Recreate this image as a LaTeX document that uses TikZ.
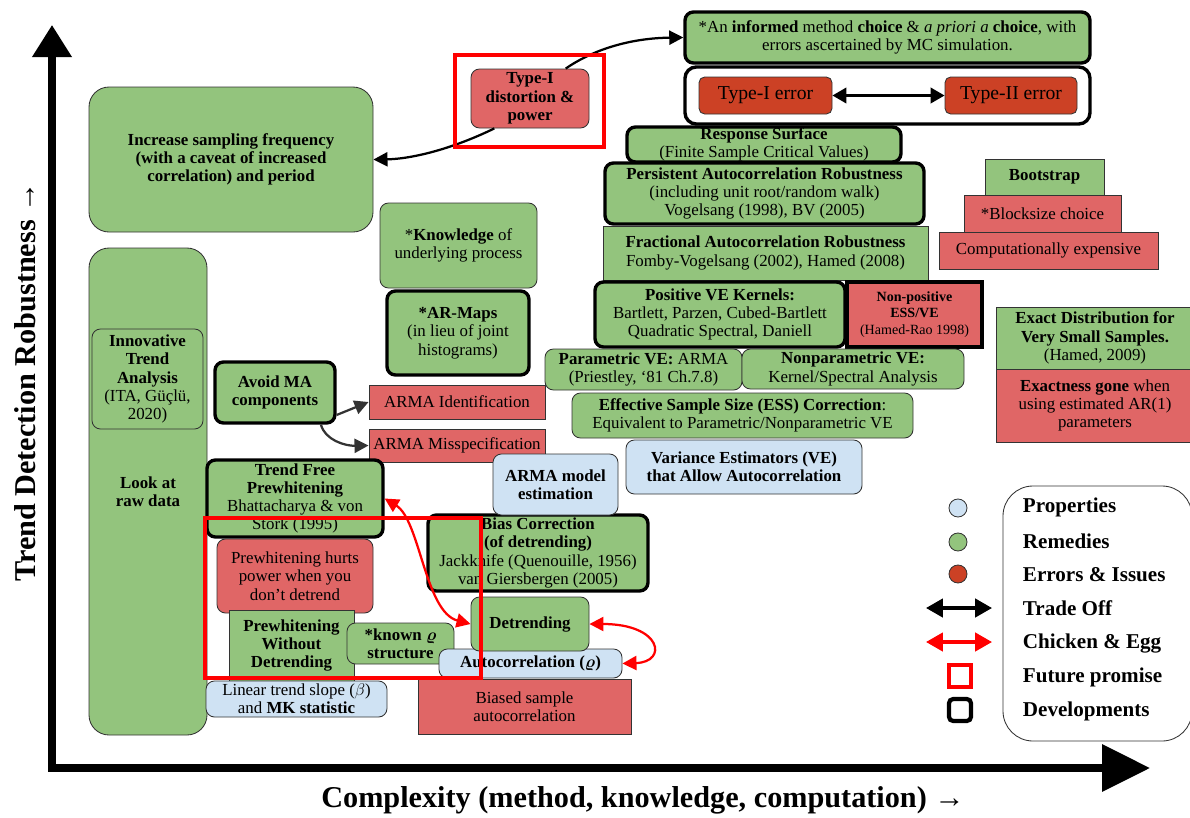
\documentclass[tikz,border=0pt]{standalone}
\usepackage{amsmath}
\usepackage{fontspec}
\setmainfont{Liberation Serif}
\usetikzlibrary{arrows.meta}

\definecolor{remedyc}{HTML}{93C47D}
\definecolor{issuec}{HTML}{E06666}
\definecolor{errorc}{HTML}{CC4125}
\definecolor{propc}{HTML}{CFE2F3}
\definecolor{lined}{HTML}{333333}

\newcommand{\fs}{\fontsize{12}{13}\selectfont}
\newcommand{\blockat}[7]{\node[#2, minimum width={(#5-#3)*0.025cm}, minimum height={(#6-#4)*0.025cm}] (#1) at ({(#3+#5)/2},{(#4+#6)/2}) {#7};}

\tikzset{
	base/.style={draw=lined, line width=0.6pt, align=center, inner sep=0pt, font=\fs, text=black},
	remedy/.style={base, fill=remedyc, rounded corners=6pt},
	remedysq/.style={base, fill=remedyc},
	issue/.style={base, fill=issuec},
	prop/.style={base, fill=propc, rounded corners=6pt},
	devel/.style={draw=black, line width=2.4pt},
	promise/.style={draw=red, line width=2.2pt},
	bold/.style={font=\fs\bfseries},
	trade/.style={black, line width=2pt, {Triangle[length=10pt,width=11pt]}-{Triangle[length=10pt,width=11pt]}},
	egg/.style={red, line width=1.6pt, {Triangle[length=10pt,width=10pt]}-{Triangle[length=10pt,width=10pt]}},
	lead/.style={black, line width=1.6pt, -{Triangle[length=10pt,width=10pt]}},
	maarrow/.style={lined, line width=1.6pt, -{Triangle[length=10pt,width=10pt]}},
	legtext/.style={anchor=west, font=\fontsize{15}{18}\selectfont\bfseries},
	legdot/.style={circle, draw=lined, line width=0.6pt, minimum size=0.45cm, inner sep=0pt}
}

\begin{document}
\begin{tikzpicture}[x=0.025cm, y=-0.025cm]
	\useasboundingbox (0,0) rectangle (1190,817);
	\draw[line width=5pt, {Triangle[length=0.8cm,width=0.95cm]}-{Triangle[length=1.2cm,width=1.15cm]}] (52,25) -- (52,768) -- (1150,768);
	\node[font=\fontsize{21.5}{25}\selectfont\bfseries, rotate=90] (ylab) at (25,382) {Trend Detection Robustness →};
	\node[font=\fontsize{21.5}{25}\selectfont\bfseries] (xlab) at (643,800) {Complexity (method, knowledge, computation) →};

	\blockat{inc}{remedy, bold, rounded corners=0.5cm}{89}{87}{373}{232}{Increase sampling frequency\\(with a caveat of increased\\correlation) and period}
	\blockat{raw}{remedy, rounded corners=0.5cm}{89}{248}{207}{735}{}
	\node[bold, align=center] (rawtxt) at (148,492) {Look at\\raw data};
	\blockat{ita}{remedy}{92}{329}{203}{429}{\textbf{Innovative}\\\textbf{Trend}\\\textbf{Analysis}\\(ITA, Güçlü,\\2020)}
	\blockat{know}{remedy}{380}{203}{537}{288}{*\textbf{Knowledge} of\\underlying process}
	\blockat{armap}{remedy, devel}{387}{291}{529}{375}{\textbf{*AR-Maps}\\(in lieu of joint\\histograms)}
	\blockat{avoid}{remedy, devel, bold}{215}{362}{335}{423}{Avoid MA\\components}
	\blockat{armaid}{issue}{369}{385}{545}{419}{ARMA Identification}
	\blockat{armamis}{issue}{369}{429}{545}{462}{ARMA Misspecification}
	\draw[maarrow] (avoid.-20) -- (armaid.west);
	\draw[maarrow] (avoid.-35) .. controls (325,440) and (345,446) .. (armamis.west);

	\blockat{tfp}{remedy, devel}{207}{460}{383}{537}{\textbf{Trend Free}\\\textbf{Prewhitening}\\Bhattacharya \& von\\Stork (1995)}
	\blockat{hurt}{issue, rounded corners=6pt}{217}{539}{373}{613}{Prewhitening hurts\\power when you\\don’t detrend}
	\blockat{pwd}{remedysq, bold}{229}{610}{354}{681}{Prewhitening\\Without\\Detrending}
	\blockat{known}{remedy, bold}{347}{623}{454}{664}{*known $\boldsymbol{\varrho}$\\structure}
	\blockat{lin}{prop}{206}{681}{387}{717}{Linear trend slope ($\beta$)\\and \textbf{MK statistic}}

	\blockat{bias}{remedy, devel}{428}{515}{648}{591}{\textbf{Bias Correction}\\\textbf{(of detrending)}\\Jackknife (Quenouille, 1956)\\van Giersbergen (2005)}
	\blockat{armaest}{prop, bold}{493}{454}{618}{515}{ARMA model\\estimation}
	\blockat{ve}{prop, bold}{626}{440}{862}{494}{Variance Estimators (VE)\\that Allow Autocorrelation}
	\blockat{auto}{prop, bold}{439}{649}{622}{678}{Autocorrelation ($\boldsymbol{\varrho}$)}
	\blockat{det}{remedy, bold}{471}{597}{589}{651}{Detrending}
	\blockat{biased}{issue}{418}{679}{631}{734}{Biased sample\\autocorrelation}

	\blockat{frac}{remedysq}{603}{226}{928}{280}{\textbf{Fractional Autocorrelation Robustness}\\Fomby-Vogelsang (2002), Hamed (2008)}
	\blockat{resp}{remedy, devel}{627}{127}{901}{162}{\textbf{Response Surface}\\(Finite Sample Critical Values)}
	\blockat{pers}{remedy, devel}{605}{163}{924}{224}{\textbf{Persistent Autocorrelation Robustness}\\(including unit root/random walk)\\Vogelsang (1998), BV (2005)}
	\blockat{pos}{remedy, devel}{595}{282}{845}{347}{\textbf{Positive VE Kernels:}\\Bartlett, Parzen, Cubed-Bartlett\\Quadratic Spectral, Daniell}
	\blockat{nonpos}{issue, devel, font=\fontsize{10}{12}\selectfont}{847}{282}{982}{347}{\textbf{Non-positive}\\\textbf{ESS/VE}\\(Hamed-Rao 1998)}
	\blockat{par}{remedy}{545}{349}{742}{390}{\textbf{Parametric VE:} ARMA\\(Priestley, ‘81 Ch.7.8)}
	\blockat{nonpar}{remedy}{742}{349}{964}{389}{\textbf{Nonparametric VE:}\\Kernel/Spectral Analysis}
	\blockat{ess}{remedy}{572}{393}{913}{438}{\textbf{Effective Sample Size (ESS) Correction}:\\Equivalent to Parametric/Nonparametric VE}

	\blockat{inf}{remedy, devel}{685}{12}{1090}{63}{*An \textbf{informed} method \textbf{choice} \& \textit{a priori a} \textbf{choice}, with\\errors ascertained by MC simulation.}
	\blockat{tradebox}{base, devel, fill=white, rounded corners=8pt}{685}{67}{1090}{124}{}
	\blockat{t1}{base, fill=errorc, rounded corners=4pt, font=\fontsize{14}{16}\selectfont}{699}{77}{832}{114}{Type-I error}
	\blockat{t2}{base, fill=errorc, rounded corners=4pt, font=\fontsize{14}{16}\selectfont}{945}{77}{1077}{114}{Type-II error}
	\draw[trade] (t1.east) -- (t2.west);

	\blockat{boot}{remedysq, bold}{985}{159}{1104}{195}{Bootstrap}
	\blockat{block}{issue}{964}{195}{1121}{232}{*Blocksize choice}
	\blockat{comp}{issue}{939}{232}{1158}{269}{Computationally expensive}
	\blockat{exact}{remedysq}{996}{307}{1194}{369}{\textbf{Exact Distribution for}\\\textbf{Very Small Samples.}\\(Hamed, 2009)}
	\blockat{exactg}{issue}{996}{369}{1194}{442}{\textbf{Exactness gone} when\\using estimated AR(1)\\parameters}

	\blockat{tdp}{issue, bold, rounded corners=6pt}{471}{69}{589}{128}{Type-I\\distortion \&\\power}
	\draw[lead] (tdp.40) .. controls (600,45) and (640,38) .. (inf.west);
	\draw[lead] (tdp.-140) .. controls (450,150) and (410,159) .. (inc.east);

	\blockat{legend}{base, fill=white, rounded corners=0.75cm}{1003}{486}{1192}{741}{}
	\node[legdot, fill=propc] (lprop) at (958,508) {};
	\node[legdot, fill=remedyc] (lrem) at (958,542) {};
	\node[legdot, fill=errorc] (lerr) at (958,574) {};
	\coordinate (ltl) at (926,608);
	\coordinate (ltr) at (992,608);
	\coordinate (lel) at (926,642);
	\coordinate (ler) at (992,642);
	\draw[trade, line width=2.4pt, {Triangle[length=12pt,width=13pt]}-{Triangle[length=12pt,width=13pt]}] (ltl) -- (ltr);
	\draw[egg, line width=2.4pt, {Triangle[length=12pt,width=13pt]}-{Triangle[length=12pt,width=13pt]}] (lel) -- (ler);
	\node[promise, minimum size=0.55cm, inner sep=0pt] (lfut) at (960,676) {};
	\node[devel, line width=3pt, rounded corners=3pt, minimum size=0.55cm, inner sep=0pt] (ldev) at (960,710) {};
	\node[legtext] (tprop) at (1018,507) {Properties};
	\node[legtext] (trem) at (1018,541) {Remedies};
	\node[legtext] (terr) at (1018,575) {Errors \& Issues};
	\node[legtext] (ttrade) at (1018,608) {Trade Off};
	\node[legtext] (tegg) at (1018,643) {Chicken \& Egg};
	\node[legtext] (tfut) at (1018,677) {Future promise};
	\node[legtext] (tdev) at (1018,711) {Developments};

	\draw[promise] (455,55) rectangle (604,147);
	\draw[promise] (205,518) rectangle (481,678);
	\draw[egg] (tfp.east) .. controls (420,520) and (425,612) .. (det.west);
	\draw[egg] (det.east) .. controls (662,624) and (668,662) .. (auto.east);
\end{tikzpicture}
\end{document}
